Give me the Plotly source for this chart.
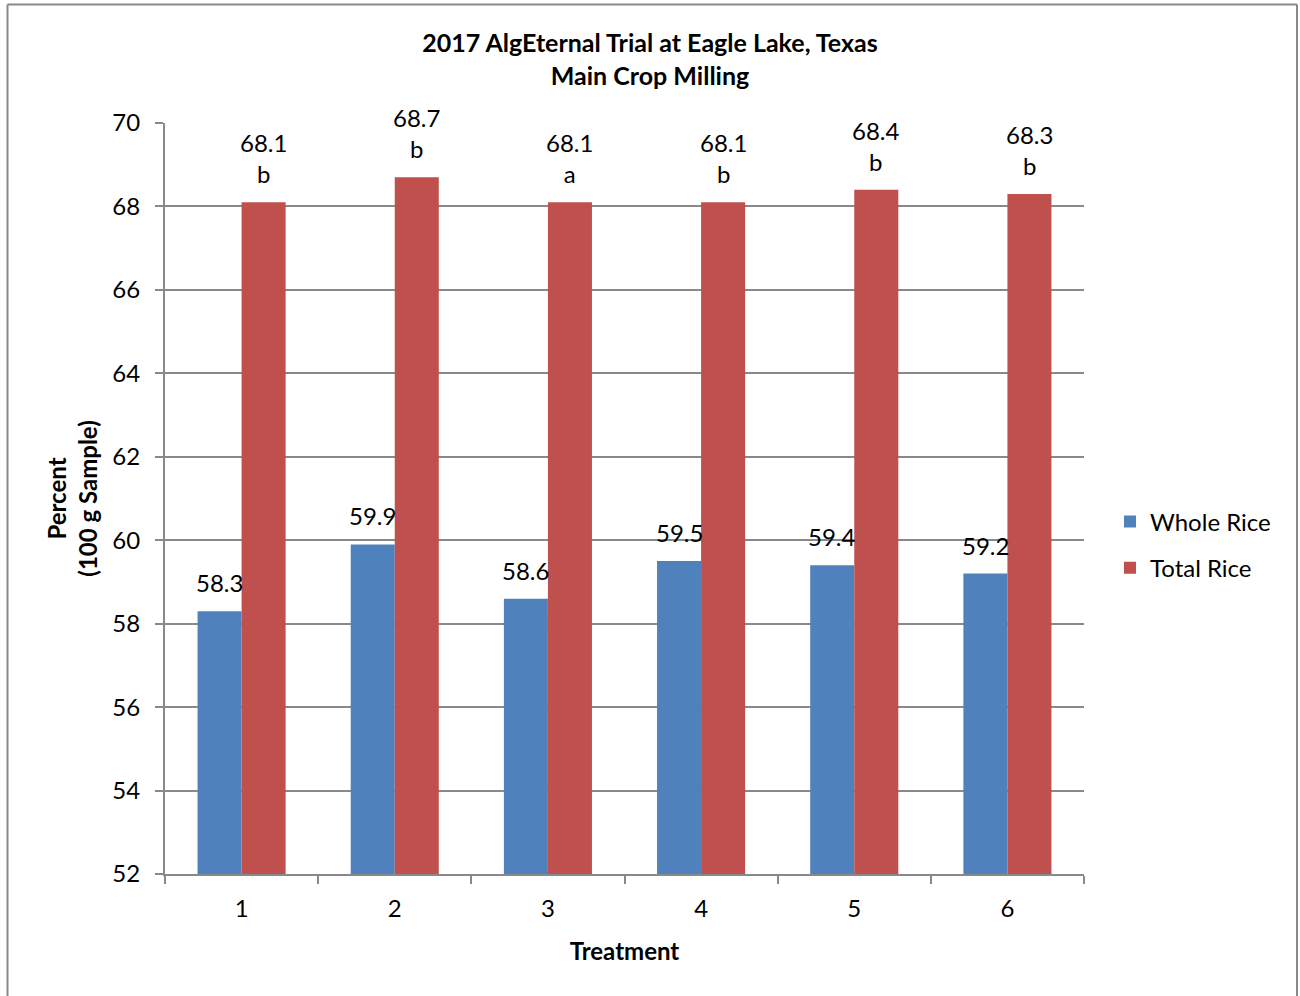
import plotly.graph_objects as go

# Milling results per treatment
treatments = ["1", "2", "3", "4", "5", "6"]
whole_rice = [58.3, 59.9, 58.6, 59.5, 59.4, 59.2]
total_rice = [68.1, 68.7, 68.1, 68.1, 68.4, 68.3]
total_letters = ["b", "b", "a", "b", "b", "b"]

BLUE = "#4F81BD"
RED = "#C0504D"
GRID = "#898989"
FONT = "Lato, Calibri, Carlito, sans-serif"
FS = 24

W, H = 1300, 996
L, R, T, B = 165, 216, 123, 122
PW, PH = W - L - R, H - T - B


def px_x(p):
    return (p - L) / PW


def px_y(p):
    return (H - B - p) / PH


fig = go.Figure()
fig.add_trace(go.Bar(name="Whole Rice", x=treatments, y=whole_rice,
                     marker=dict(color=BLUE, line=dict(width=0)),
                     legendgroup="w"))
fig.add_trace(go.Bar(name="Total Rice", x=treatments, y=total_rice,
                     marker=dict(color=RED, line=dict(width=0)),
                     legendgroup="t"))

# value labels above each bar (category index positions on the x axis)
annotations = []
for i, (w, tot, let) in enumerate(zip(whole_rice, total_rice, total_letters)):
    annotations.append(dict(x=i, y=w, xref="x", yref="y", text=f"{w}",
                            showarrow=False, xshift=-22, yshift=12,
                            yanchor="bottom", font=dict(size=FS, color="black")))
    annotations.append(dict(x=i, y=tot, xref="x", yref="y", text=f"{tot}<br>{let}",
                            showarrow=False, xshift=22, yshift=12,
                            yanchor="bottom", font=dict(size=FS, color="black")))

# chart-area frame: left, top and right edges (bottom edge runs off the page)
frame_left, frame_right, frame_top, frame_bottom = 7.5, 1297, 4.5, 996
frame = [
    dict(x0=frame_left, x1=frame_left, y0=frame_top, y1=frame_bottom),
    dict(x0=frame_left, x1=frame_right, y0=frame_top, y1=frame_top),
    dict(x0=frame_right, x1=frame_right, y0=frame_top, y1=frame_bottom),
]
shapes = [dict(type="line", xref="paper", yref="paper",
               x0=px_x(s["x0"]), x1=px_x(s["x1"]),
               y0=px_y(s["y0"]), y1=px_y(s["y1"]),
               line=dict(color=GRID, width=2), layer="below") for s in frame]

fig.update_layout(
    width=W, height=H,
    margin=dict(l=L, r=R, t=T, b=B, autoexpand=False),
    paper_bgcolor="white", plot_bgcolor="white",
    font=dict(family=FONT, size=FS, color="black"),
    barmode="group", bargap=0.425, bargroupgap=0,
    title=dict(text="<b>2017 AlgEternal Trial at Eagle Lake, Texas<br>Main Crop Milling</b>",
               x=0.5, xref="container", xanchor="center",
               y=1 - 52 / H, yref="container", yanchor="middle",
               font=dict(family=FONT, size=25, color="black")),
    legend=dict(x=px_x(1110), y=px_y(545), xanchor="left", yanchor="middle",
                font=dict(family=FONT, size=FS, color="black"),
                tracegroupgap=12, bgcolor="rgba(0,0,0,0)"),
    annotations=annotations,
    shapes=shapes,
)

fig.update_xaxes(
    type="category", range=[-0.5, 5.5], showline=True, linecolor=GRID, linewidth=2,
    ticks="outside", tickson="boundaries", ticklen=8, tickwidth=2, tickcolor=GRID,
    showgrid=False, tickfont=dict(size=FS), ticklabelstandoff=12,
    title=dict(text="<b>Treatment</b>", standoff=22, font=dict(size=FS)),
)
fig.update_yaxes(
    range=[52, 70], dtick=2, tick0=52, showline=True, linecolor=GRID, linewidth=2,
    ticks="outside", ticklen=8, tickwidth=2, tickcolor=GRID,
    showgrid=True, gridcolor=GRID, gridwidth=1.5, zeroline=False,
    tickfont=dict(size=FS), ticklabelstandoff=10,
    title=dict(text="<b>Percent<br>(100 g Sample)</b>", standoff=8, font=dict(size=FS)),
)

fig.write_html("out.html")
